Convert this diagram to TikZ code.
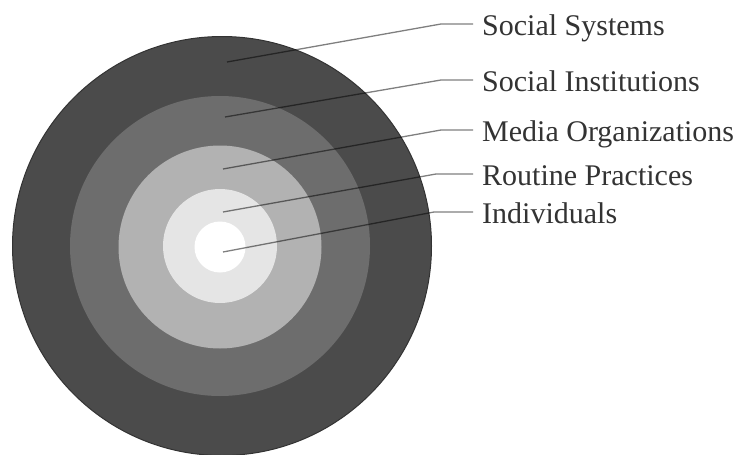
\documentclass[tikz,border=0pt]{standalone}
\usepackage{fontspec}
\setmainfont{Liberation Serif}
\definecolor{ringA}{HTML}{4B4B4B}
\definecolor{ringAedge}{HTML}{333333}
\definecolor{ringB}{HTML}{6D6D6D}
\definecolor{ringC}{HTML}{B2B2B2}
\definecolor{ringD}{HTML}{E5E5E5}
\definecolor{ringE}{HTML}{FFFFFF}
\definecolor{txtgray}{HTML}{333333}
\begin{document}
\begin{tikzpicture}[x=1pt,y=-1pt,
  lbl/.style={anchor=west, inner xsep=9pt, inner ysep=0pt, text height=22pt, text depth=0pt,
              font=\fontsize{30}{32}\selectfont, text=txtgray},
  leader/.style={draw=black, draw opacity=0.5, line width=1.3pt},
  ring/.style={draw=none}]
\useasboundingbox (0,0) rectangle (742,455);
% concentric rings
\filldraw[ring, fill=ringA, draw=ringAedge, line width=1pt] (222,246) circle[radius=209.5pt];
\fill[ringB] (220,246) circle[radius=150pt];
\fill[ringC] (220,247) circle[radius=101.5pt];
\fill[ringD] (220,246) circle[radius=57pt];
\fill[ringE] (220,247) circle[radius=25.5pt];
% start points of leaders
\coordinate (s1) at (227,62);
\coordinate (s2) at (225,117);
\coordinate (s3) at (223,169);
\coordinate (s4) at (223,212);
\coordinate (s5) at (223,252);
% bend points
\coordinate (b1) at (441,24);
\coordinate (b2) at (441,80);
\coordinate (b3) at (441,130);
\coordinate (b4) at (436,174);
\coordinate (b5) at (434,212);
% labels
\node[lbl] (t1) at (473,24) {Social Systems};
\node[lbl] (t2) at (473,80) {Social Institutions};
\node[lbl] (t3) at (473,130) {Media Organizations};
\node[lbl] (t4) at (473,174) {Routine Practices};
\node[lbl] (t5) at (473,212) {Individuals};
% leaders
\draw[leader] (s1) -- (b1) -- (t1.west);
\draw[leader] (s2) -- (b2) -- (t2.west);
\draw[leader] (s3) -- (b3) -- (t3.west);
\draw[leader] (s4) -- (b4) -- (t4.west);
\draw[leader] (s5) -- (b5) -- (t5.west);
\end{tikzpicture}
\end{document}
